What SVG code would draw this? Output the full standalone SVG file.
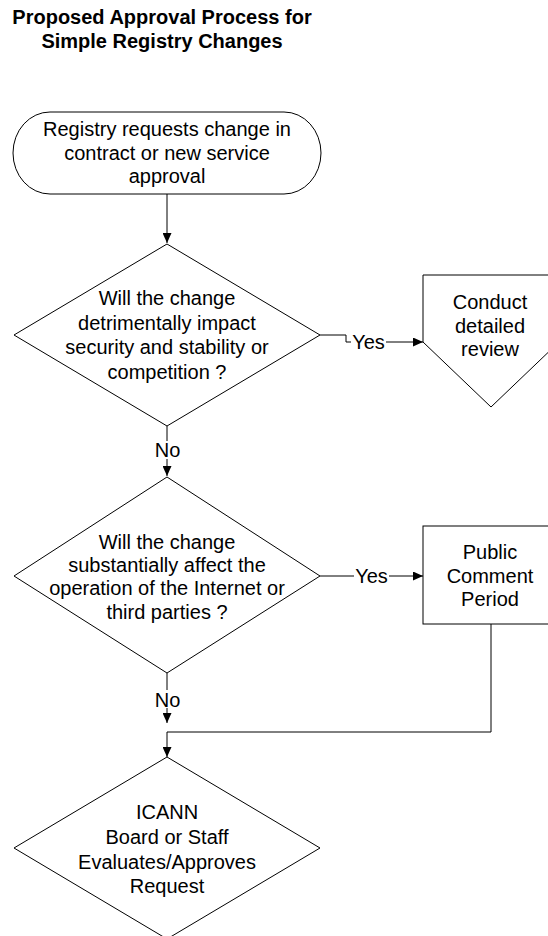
<svg xmlns="http://www.w3.org/2000/svg" width="548" height="936" viewBox="0 0 548 936">
<style>
.shape{fill:#fff;stroke:#000;stroke-width:1}
.conn{fill:none;stroke:#000;stroke-width:1}
.t{font-family:"Liberation Sans",Arial,sans-serif;font-size:20px;fill:#000;text-anchor:middle}
.title{font-family:"Liberation Sans",Arial,sans-serif;font-size:20px;font-weight:bold;fill:#000;text-anchor:middle}
.lblbg{fill:#fff;stroke:none}
</style>
<defs>
<marker id="arr" markerWidth="10" markerHeight="9" refX="10" refY="4.5" orient="auto" markerUnits="userSpaceOnUse">
<path d="M0,0 L10,4.5 L0,9 Z" fill="#000"/>
</marker>
</defs>
<rect width="548" height="936" fill="#fff"/>
<g id="title">
<text class="title" x="162" y="24">Proposed Approval Process for</text>
<text class="title" x="162" y="48">Simple Registry Changes</text>
</g>
<g id="connectors">
<path class="conn" d="M167,194 V243" marker-end="url(#arr)"/>
<path class="conn" d="M320,335 H346 V342 H423" marker-end="url(#arr)"/>
<path class="conn" d="M167,426 V476" marker-end="url(#arr)"/>
<path class="conn" d="M320,576 H423" marker-end="url(#arr)"/>
<path class="conn" d="M167,673 V723" marker-end="url(#arr)"/>
<path class="conn" d="M491,624 V732 H167 V757" marker-end="url(#arr)"/>
<rect class="lblbg" x="351" y="334" width="35" height="17"/>
<text class="t" x="368.5" y="349">Yes</text>
<rect class="lblbg" x="354" y="568" width="35" height="17"/>
<text class="t" x="371.5" y="583">Yes</text>
<rect class="lblbg" x="155" y="441" width="25" height="18"/>
<text class="t" x="167.5" y="457">No</text>
<rect class="lblbg" x="155" y="690" width="25" height="18"/>
<text class="t" x="167.5" y="707">No</text>
</g>
<g id="start">
<path class="shape" d="M50,112 H284 A37,41 0 0 1 284,194 H50 A37,41 0 0 1 50,112 Z"/>
<text class="t" x="167" y="136">Registry requests change in</text>
<text class="t" x="167" y="160">contract or new service</text>
<text class="t" x="167" y="183">approval</text>
</g>
<g id="decision1">
<path class="shape" d="M167,244 L320,335 L167,426 L14,335 Z"/>
<text class="t" x="167" y="305">Will the change</text>
<text class="t" x="167" y="330">detrimentally impact</text>
<text class="t" x="167" y="354">security and stability or</text>
<text class="t" x="167" y="379">competition ?</text>
</g>
<g id="review">
<path class="shape" d="M423,275 H559 V342 L491,407 L423,342 Z"/>
<text class="t" x="490" y="309">Conduct</text>
<text class="t" x="490" y="333">detailed</text>
<text class="t" x="490" y="356">review</text>
</g>
<g id="decision2">
<path class="shape" d="M167,477 L320,576 L167,673 L14,576 Z"/>
<text class="t" x="167" y="549">Will the change</text>
<text class="t" x="167" y="572">substantially affect the</text>
<text class="t" x="167" y="595">operation of the Internet or</text>
<text class="t" x="167" y="619">third parties ?</text>
</g>
<g id="comment">
<rect class="shape" x="423" y="526" width="136" height="98"/>
<text class="t" x="490" y="559">Public</text>
<text class="t" x="490" y="583">Comment</text>
<text class="t" x="490" y="606">Period</text>
</g>
<g id="approve">
<path class="shape" d="M167,757 L320,848 L167,939 L14,848 Z"/>
<text class="t" x="167" y="819">ICANN</text>
<text class="t" x="167" y="844">Board or Staff</text>
<text class="t" x="167" y="869">Evaluates/Approves</text>
<text class="t" x="167" y="893">Request</text>
</g>
</svg>
